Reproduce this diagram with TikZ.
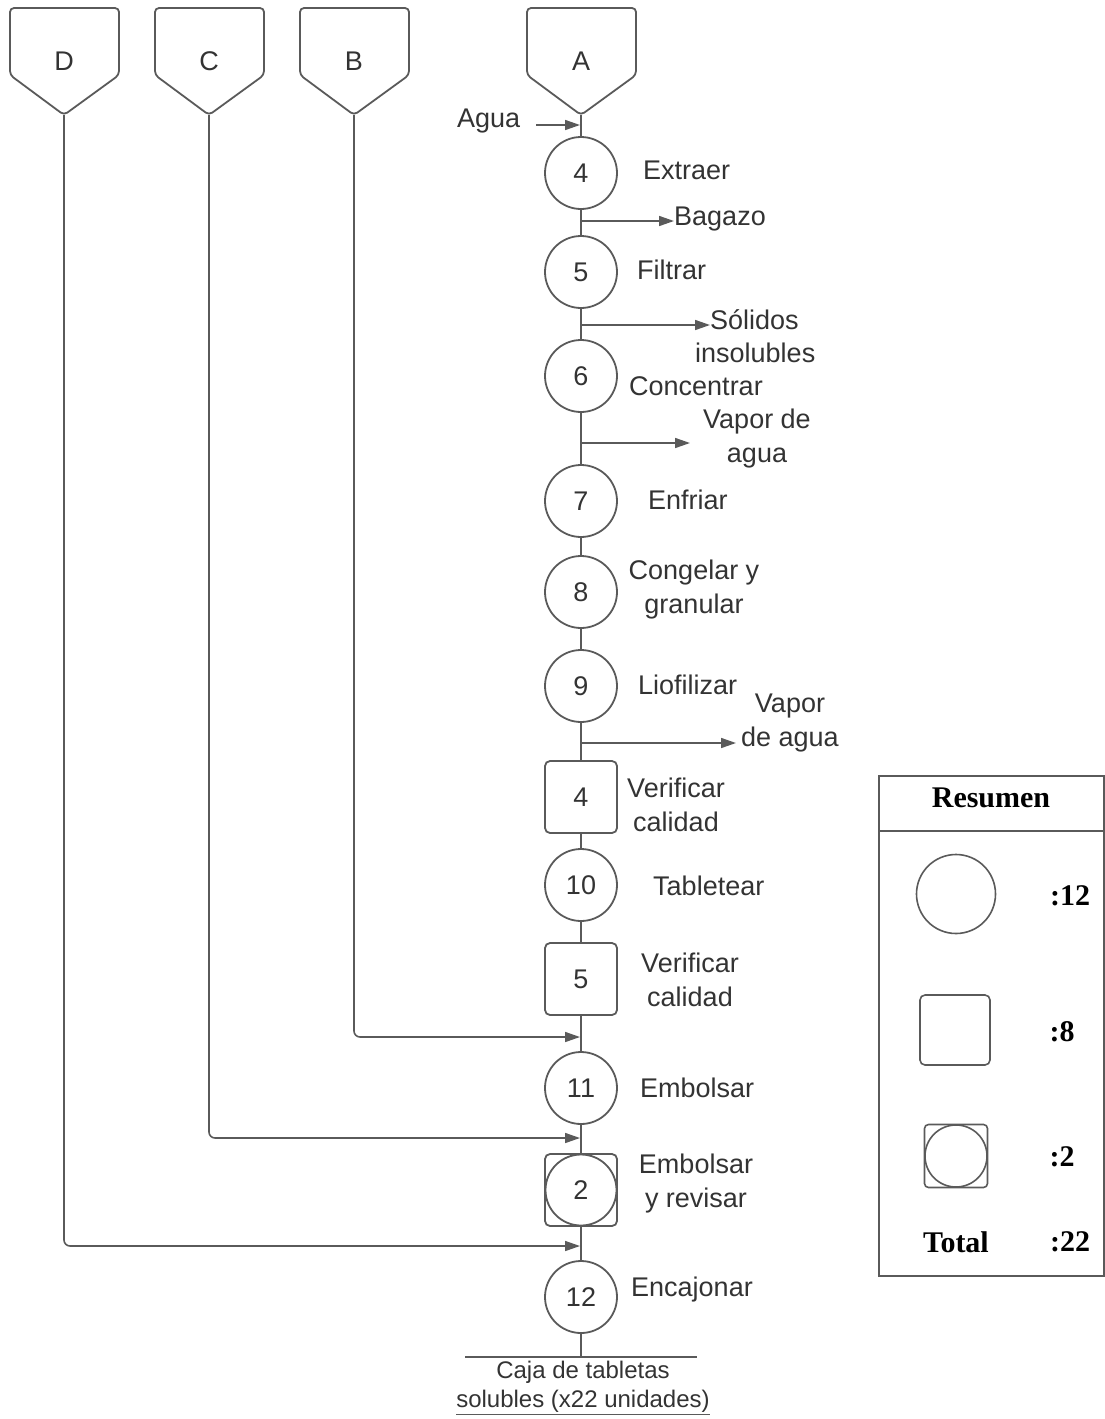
\documentclass[tikz,border=0pt]{standalone}
\usepackage{fontspec}
\setmainfont{Liberation Sans}
\newfontfamily\serifb{Liberation Serif}
\usetikzlibrary{arrows.meta}
\definecolor{ln}{HTML}{5A5A5A}
\definecolor{tx}{HTML}{333333}
\begin{document}
\begin{tikzpicture}[x=1pt,y=-1pt,
  line/.style={draw=ln,line width=1.6pt},
  arr/.style={line,-{Triangle[length=15pt,width=10pt]}},
  op/.style={circle,draw=ln,line width=1.8pt,minimum size=72pt,inner sep=0pt,text=tx,font=\fontsize{27}{30}\selectfont},
  insp/.style={rectangle,rounded corners=5pt,draw=ln,line width=1.8pt,minimum size=72pt,inner sep=0pt,text=tx,font=\fontsize{27}{30}\selectfont},
  lab/.style={text=tx,font=\fontsize{27}{34}\selectfont,inner sep=0pt,align=center},
  conn/.style={line,line width=1.8pt,rounded corners=4pt},
  sm/.style={font=\serifb\bfseries\fontsize{30}{34}\selectfont,inner sep=0pt}]
\useasboundingbox (0,0) rectangle (1105,1419);
% connectors (off-page) A-D
\foreach \n/\x in {D/64,C/209,B/354,A/581}{
  \draw[conn] (\x-54,8) -- (\x+55,8) -- (\x+55,75) -- (\x,115) -- (\x-54,75) -- cycle;
  \coordinate (\n p) at (\x,115);
  \node[lab] (\n) at (\x,61) {\n};
}
% main column
\node[op] (c4) at (581,173) {4};
\node[op] (c5) at (581,272) {5};
\node[op] (c6) at (581,376) {6};
\node[op] (c7) at (581,501) {7};
\node[op] (c8) at (581,592) {8};
\node[op] (c9) at (581,686) {9};
\node[insp] (s4) at (581,797) {4};
\node[op] (c10) at (581,885) {10};
\node[insp] (s5) at (581,979) {5};
\node[op] (c11) at (581,1088) {11};
\node[insp] (cs2) at (581,1190) {2};
\draw[ln,line width=1.8pt] (cs2.center) circle (35.5pt);
\node[op] (c12) at (581,1297) {12};
\coordinate (end) at (581,1357);
\draw[line] (Ap) -- (c4) -- (c5) -- (c6) -- (c7) -- (c8) -- (c9) -- (s4) -- (c10) -- (s5) -- (c11) -- (cs2) -- (c12) -- (end);
% labels
\node[lab,anchor=west] (l4) at (643,170) {Extraer};
\node[lab,anchor=west] (l5) at (637,270) {Filtrar};
\node[lab,anchor=west] (l6) at (629,386) {Concentrar};
\node[lab,anchor=west] (l7) at (648,500) {Enfriar};
\node[lab] (l8) at (694,590) {Congelar y\\granular};
\node[lab,anchor=west] (l9) at (638,685) {Liofilizar};
\node[lab] (ls4) at (676,805) {Verificar\\calidad};
\node[lab,anchor=west] (l10) at (653,886) {Tabletear};
\node[lab] (ls5) at (690,980) {Verificar\\calidad};
\node[lab,anchor=west] (l11) at (640,1088) {Embolsar};
\node[lab] (lcs2) at (696,1184) {Embolsar\\y revisar};
\node[lab,anchor=west] (l12) at (631,1290) {Encajonar};
% inputs / outputs
\node[lab,anchor=west] (agua) at (457,121) {Agua};
\coordinate (aguaS) at (536,125);
\coordinate (aguaE) at (580,125);
\draw[arr] (aguaS) -- (aguaE);
\coordinate (o1) at (581,221);
\node[lab,anchor=west] (bag) at (674,219) {Bagazo};
\draw[arr] (o1) -- (bag.west |- o1);
\coordinate (o2) at (581,325);
\node[lab,anchor=west] (sol) at (710,320) {Sólidos};
\node[lab,anchor=west] (ins) at (695,353) {insolubles};
\draw[arr] (o2) -- (sol.west |- o2);
\coordinate (o3) at (581,443);
\node[lab] (vap1) at (757,439) {Vapor de\\agua};
\coordinate (o3e) at (690,443);
\draw[arr] (o3) -- (o3e);
\coordinate (o4) at (581,743);
\node[lab] (vap2) at (790,723) {Vapor\\de agua};
\coordinate (o4e) at (736,743);
\draw[arr] (o4) -- (o4e);
% incoming from B, C, D
\coordinate (inB) at (580,1037);
\coordinate (inC) at (580,1138);
\coordinate (inD) at (580,1246);
\draw[line,rounded corners=6pt,-{Triangle[length=15pt,width=10pt]}] (Bp) |- (inB);
\draw[line,rounded corners=6pt,-{Triangle[length=15pt,width=10pt]}] (Cp) |- (inC);
\draw[line,rounded corners=6pt,-{Triangle[length=15pt,width=10pt]}] (Dp) |- (inD);
% final product
\coordinate (bl) at (465,1357);
\coordinate (br) at (697,1357);
\draw[line] (bl) -- (br);
\node[text=tx,font=\fontsize{24}{29}\selectfont,align=center,inner sep=0pt,anchor=north] (cap) at (583,1361) {Caja de tabletas\\solubles (x22 unidades)};
\coordinate (ul) at ([yshift=-2pt]cap.south west);
\coordinate (ur) at ([yshift=-2pt]cap.south east);
\draw[line,line width=1.4pt] (ul) -- (ur);
% summary
\draw[ln,line width=1.4pt] (879,776) rectangle (1104,1276);
\coordinate (sepL) at (879,831);
\coordinate (sepR) at (1104,831);
\draw[ln,line width=1.2pt] (sepL) -- (sepR);
\node[sm] (res) at (991,798) {Resumen};
\node[circle,draw=ln,line width=1.6pt,minimum size=79pt,inner sep=0pt] (rc) at (956,894) {};
\node[sm] (n12) at (1070,896) {:12};
\node[rectangle,rounded corners=5pt,draw=ln,line width=1.6pt,minimum size=70pt,inner sep=0pt] (rs) at (955,1030) {};
\node[sm] (n8) at (1062,1032) {:8};
\node[rectangle,rounded corners=4pt,draw=ln,line width=1.6pt,minimum size=63pt,inner sep=0pt] (rcs) at (956,1156) {};
\draw[ln,line width=1.6pt] (rcs.center) circle (31pt);
\node[sm] (n2) at (1062,1157) {:2};
\node[sm] (tot) at (956,1242) {Total};
\node[sm] (n22) at (1070,1242) {:22};
\end{tikzpicture}
\end{document}
